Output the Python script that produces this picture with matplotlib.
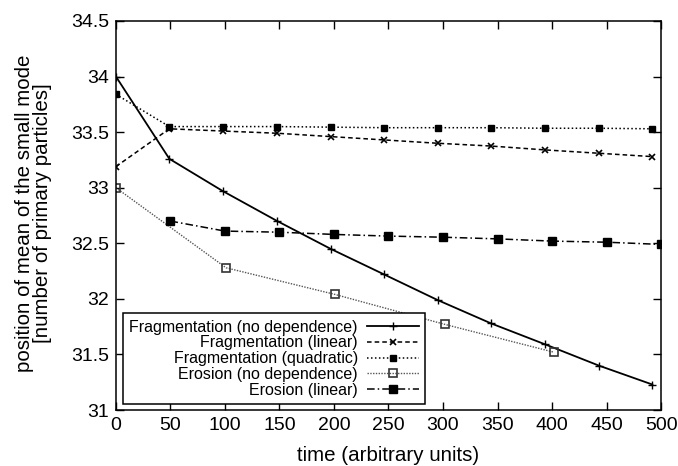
import numpy as np
from matplotlib import pyplot as plt

# values
t_frag = [0, 49, 98, 148, 197, 246, 295, 344, 394, 443, 492]
frag_none = [34.0, 33.26, 32.97, 32.70, 32.45, 32.22, 31.99, 31.78, 31.59, 31.40, 31.23]
frag_lin = [33.19, 33.53, 33.51, 33.49, 33.46, 33.43, 33.40, 33.375, 33.34, 33.31, 33.28]
frag_quad = [33.84, 33.55, 33.55, 33.55, 33.545, 33.54, 33.54, 33.54, 33.535, 33.535, 33.53]

t_eros_none = [0, 101, 201, 302, 402]
eros_none = [33.0, 32.28, 32.04, 31.77, 31.52]

t_eros_lin = [50, 100, 150, 200, 250, 300, 350, 400, 450, 500]
eros_lin = [32.70, 32.61, 32.60, 32.58, 32.565, 32.555, 32.54, 32.52, 32.51, 32.49]

labels = ["Fragmentation (no dependence)", "Fragmentation (linear)",
          "Fragmentation (quadratic)", "Erosion (no dependence)", "Erosion (linear)"]

plt.rcParams['font.family'] = ['Liberation Sans', 'DejaVu Sans']

fig = plt.figure(figsize=(6.78, 4.66), dpi=100)
ax = fig.add_axes([0.171, 0.120, 0.804, 0.835])

ax.plot(t_frag, frag_none, color="black", lw=1.3, ls="-", marker="+", ms=6, mew=1.0, label=labels[0])
ax.plot(t_frag, frag_lin, color="black", lw=1.1, ls=(0, (3, 2)), marker="x", ms=5, mew=1.2, label=labels[1])
ax.plot(t_frag, frag_quad, color="black", lw=1.1, ls=(0, (1, 1.6)), marker="s", ms=4.5, mew=1.0, label=labels[2])
ax.plot(t_eros_none, eros_none, color="#555555", lw=1.0, ls=(0, (1, 1)), marker="s", ms=5.5, mfc="none",
        mec="#333333", mew=1.2, label=labels[3])
ax.plot(t_eros_lin, eros_lin, color="black", lw=1.1, ls=(0, (5, 2, 1, 2)), marker="s", ms=5.5, label=labels[4])

ax.set_xlim(0, 500)
ax.set_ylim(31, 34.5)
ax.set_xticks(np.arange(0, 501, 50))
ax.set_yticks(np.arange(31, 34.51, 0.5))
ax.set_yticklabels(["%g" % v for v in np.arange(31, 34.51, 0.5)])
ax.tick_params(direction="in", top=True, right=True, length=6, width=1.0, labelsize=14, pad=5)
for s in ax.spines.values():
    s.set_linewidth(1.1)

ax.set_xlabel("time (arbitrary units)", fontsize=14.8)
ax.xaxis.set_label_coords(0.5, -0.092)
ax.set_ylabel("position of mean of the small mode\n[number of primary particles]", fontsize=14.8,
              linespacing=0.95)
ax.yaxis.set_label_coords(-0.117, 0.505)

leg = ax.legend(loc="lower left", bbox_to_anchor=(0.013, 0.015), borderaxespad=0, markerfirst=False,
                fancybox=False, edgecolor="black", framealpha=1, fontsize=11.5, handlelength=3.2,
                labelspacing=0.05, borderpad=0.4, handletextpad=0.6)
leg.get_frame().set_linewidth(1.1)
for txt in leg.get_texts():
    txt.set_ha("right")
leg._legend_box.align = "right"

fig.savefig("out.png", dpi=100)
